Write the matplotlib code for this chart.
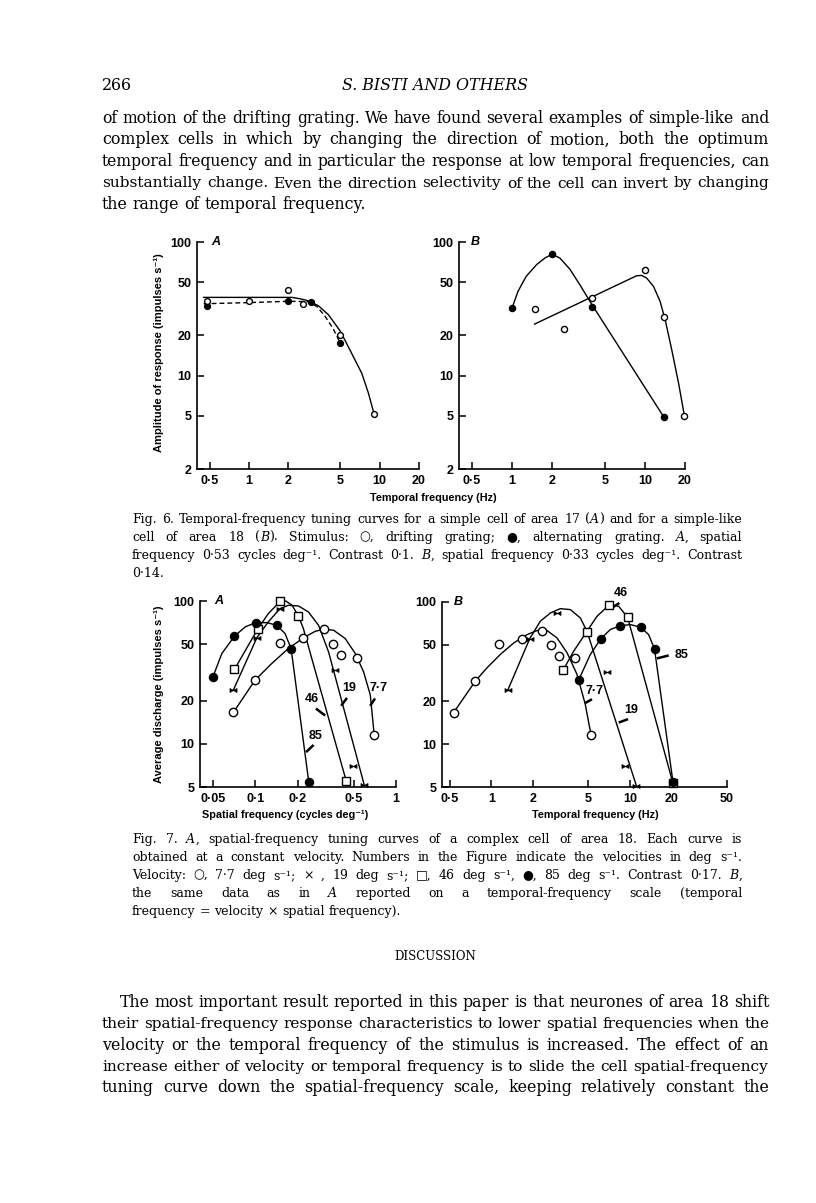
import matplotlib
matplotlib.use("Agg")
import matplotlib.pyplot as plt
from matplotlib.path import Path

# ---------------- Fig. 6 A : simple cell, area 17 (temporal frequency Hz) ----------------
f6a_drift_x = [0.48, 1, 2, 2.6, 5, 9]
f6a_drift_y = [36, 36, 43.5, 34.5, 20.2, 5.2]
f6a_alt_x = [0.48, 2, 3, 5]
f6a_alt_y = [33, 36.3, 35.5, 17.5]
# hand drawn fits
f6a_drift_fit_x = [0.45, 2.13, 2.46, 2.85, 3.4, 4.06, 5.0, 6.1, 7.3, 8.2, 9.05]
f6a_drift_fit_y = [38.5, 38.5, 37.6, 36.3, 33.3, 28.5, 21.5, 14.7, 10.4, 7.4, 5.2]
f6a_alt_fit_x = [0.45, 1, 2, 2.8, 3.3, 3.8, 4.4, 5.0]
f6a_alt_fit_y = [34.5, 35.2, 36, 35.8, 33, 28, 22.5, 17.5]

# ---------------- Fig. 6 B : simple-like cell, area 18 ----------------
f6b_drift_x = [1.48, 2.48, 4.0, 9.95, 13.8, 19.8]
f6b_drift_y = [31.6, 22.4, 38, 62, 27.4, 5.0]
f6b_alt_x = [1.0, 2.0, 4.0, 13.8]
f6b_alt_y = [31.8, 81, 32.4, 4.93]
f6b_drift_fit_x = [1.48, 8.66, 9.45, 10.3, 11.6, 13.0, 14.2, 15.9, 17.9, 19.8]
f6b_drift_fit_y = [24.3, 55.9, 56.2, 53.7, 46.5, 35.9, 26.1, 15.6, 8.76, 5.0]
f6b_alt_fit_x = [1.0, 1.11, 1.28, 1.53, 1.77, 2.0, 2.29, 2.72, 3.24, 4.0, 13.8]
f6b_alt_fit_y = [31.8, 42.7, 55.3, 67.6, 75.9, 81, 75.9, 62.8, 47.9, 33.9, 4.93]

# ---------------- Fig. 7 A : spatial frequency (cycles/deg) ----------------
f7a_v77_x = [0.070, 0.10, 0.149, 0.22, 0.309, 0.355, 0.406, 0.528, 0.70]
f7a_v77_y = [16.6, 28.0, 50.9, 55.2, 63.4, 49.9, 42, 40, 11.6]
f7a_v77_fit_x = [0.07, 0.1, 0.131, 0.172, 0.22, 0.267, 0.309, 0.361, 0.436, 0.514, 0.589, 0.657, 0.70]
f7a_v77_fit_y = [16.6, 28.0, 36.5, 46.5, 55.2, 61.4, 63.4, 62.4, 54.6, 42.9, 31.9, 22, 11.6]

f7a_v19_x = [0.070, 0.103, 0.150, 0.37, 0.495, 0.595]
f7a_v19_y = [23.8, 55.5, 88.4, 32.8, 7.02, 5.17]
f7a_v19_fit_x = [0.07, 0.103, 0.124, 0.15, 0.172, 0.203, 0.239, 0.282, 0.332, 0.595]
f7a_v19_fit_y = [23.8, 55.5, 71.4, 88.4, 93.3, 92.3, 83.8, 67.6, 44.1, 5.17]

f7a_v46_x = [0.0713, 0.104, 0.150, 0.203, 0.443]
f7a_v46_y = [33.2, 63.4, 100, 78.5, 5.52]
f7a_v46_fit_x = [0.0713, 0.104, 0.124, 0.15, 0.165, 0.183, 0.203, 0.22, 0.443]
f7a_v46_fit_y = [33.2, 63.4, 81.6, 99, 100, 93.3, 78.5, 64.1, 5.52]

f7a_v85_x = [0.05, 0.0713, 0.101, 0.1425, 0.18, 0.24]
f7a_v85_y = [29.2, 56.7, 70.6, 67.6, 46.5, 5.46]
f7a_v85_fit_x = [0.05, 0.058, 0.0713, 0.085, 0.101, 0.121, 0.1425, 0.163, 0.18, 0.24]
f7a_v85_fit_y = [29.2, 42.9, 56.7, 65.9, 70.6, 70.6, 67.6, 59.2, 46.5, 5.46]

# ---------------- Fig. 7 B : temporal frequency (Hz) ----------------
f7b_v77_x = [0.534, 0.766, 1.135, 1.66, 2.33, 2.68, 3.07, 3.98, 5.23]
f7b_v77_y = [16.7, 27.8, 50.8, 55.3, 63, 49.7, 41.6, 40.5, 11.6]
f7b_v77_fit_x = [0.534, 0.766, 0.93, 1.16, 1.45, 1.81, 2.13, 2.52, 2.97, 3.51, 4.14, 4.75, 5.23]
f7b_v77_fit_y = [16.7, 27.8, 34.5, 42.8, 51.6, 59, 63, 63, 55.9, 44, 31, 19.1, 11.6]

f7b_v19_x = [1.31, 1.89, 2.97, 6.82, 9.14, 11.1]
f7b_v19_y = [23.9, 55.3, 83.7, 32.3, 6.98, 5.1]
f7b_v19_fit_x = [1.31, 1.89, 2.25, 2.66, 3.14, 3.71, 4.38, 4.89, 11.1]
f7b_v19_fit_y = [23.9, 55.3, 73.2, 83.7, 89.8, 88.4, 77.2, 62.2, 5.1]

f7b_v46_x = [3.28, 4.85, 7.1, 9.6, 20.4]
f7b_v46_y = [33, 61.6, 95.8, 78, 5.3]
f7b_v46_fit_x = [3.28, 3.92, 4.85, 5.77, 7.1, 8.28, 9.6, 20.4]
f7b_v46_fit_y = [33, 45.1, 61.6, 79.3, 95.8, 93.2, 78, 5.3]

f7b_v85_x = [4.26, 6.17, 8.42, 11.9, 15.0, 20.4]
f7b_v85_y = [28.3, 55.3, 67.9, 66.5, 46.8, 5.39]
f7b_v85_fit_x = [4.26, 5.17, 6.17, 7.2, 8.42, 10.04, 11.9, 13.6, 15.0, 20.4]
f7b_v85_fit_y = [28.3, 42.8, 55.3, 64, 67.9, 69.4, 66.5, 59, 46.8, 5.39]

# ticks
f6_xticks = [0.5, 1, 2, 5, 10, 20]
f6_xlabels = ['0·5', '1', '2', '5', '10', '20']
f6_yticks = [2, 5, 10, 20, 50, 100]
f7a_xticks = [0.05, 0.1, 0.2, 0.5, 1]
f7a_xlabels = ['0·05', '0·1', '0·2', '0·5', '1']
f7b_xticks = [0.5, 1, 2, 5, 10, 20, 50]
f7b_xlabels = ['0·5', '1', '2', '5', '10', '20', '50']
f7_yticks = [5, 10, 20, 50, 100]

# page text
body_top = [
    "of motion of the drifting grating. We have found several examples of simple-like and",
    "complex cells in which by changing the direction of motion, both the optimum",
    "temporal frequency and in particular the response at low temporal frequencies, can",
    "substantially change. Even the direction selectivity of the cell can invert by changing",
    "the range of temporal frequency.",
]
cap6 = [
    "Fig. 6. Temporal-frequency tuning curves for a simple cell of area 17 (_A_) and for a simple-like",
    "cell of area 18 (_B_). Stimulus: ○, drifting grating; ●, alternating grating. _A_, spatial",
    "frequency 0·53 cycles deg⁻¹. Contrast 0·1. _B_, spatial frequency 0·33 cycles deg⁻¹. Contrast",
    "0·14.",
]
cap7 = [
    "Fig. 7. _A_, spatial-frequency tuning curves of a complex cell of area 18. Each curve is",
    "obtained at a constant velocity. Numbers in the Figure indicate the velocities in deg s⁻¹.",
    "Velocity: ○, 7·7 deg s⁻¹; × , 19 deg s⁻¹; □, 46 deg s⁻¹, ●, 85 deg s⁻¹. Contrast 0·17. _B_,",
    "the same data as in _A_ reported on a temporal-frequency scale (temporal",
    "frequency = velocity × spatial frequency).",
]
body_bottom = [
    "The most important result reported in this paper is that neurones of area 18 shift",
    "their spatial-frequency response characteristics to lower spatial frequencies when the",
    "velocity or the temporal frequency of the stimulus is increased. The effect of an",
    "increase either of velocity or temporal frequency is to slide the cell spatial-frequency",
    "tuning curve down the spatial-frequency scale, keeping relatively constant the",
]

W, H = 816, 1203
fig = plt.figure(figsize=(W / 100, H / 100), dpi=100)
fig.patch.set_facecolor('white')
renderer = fig.canvas.get_renderer()

SERIF = ['DejaVu Serif', 'DejaVu Sans']
SANS = ['Liberation Sans', 'DejaVu Sans']
SPACE = 0.318  # space width in em for DejaVu Serif

# small bow-tie shaped cross used in Fig. 7
BOWTIE = Path([(-1, -0.55), (1, 0.55), (1, -0.55), (-1, 0.55), (-1, -0.55)])


def fy(y):
    return 1 - y / H


def make_words(y, line, size):
    groups = []
    for word in line.split(' '):
        pieces = []
        for i, part in enumerate(word.split('_')):
            if part:
                t = fig.text(0, fy(y), part, fontsize=size, family=SERIF,
                             style='italic' if i % 2 else 'normal',
                             ha='left', va='baseline')
                pieces.append([t, t.get_window_extent(renderer).width])
        groups.append(pieces)
    return groups


def put_line(y, line, x0, x1, size, justify=True):
    groups = make_words(y, line, size)
    em = size * 100 / 72
    total = sum(w for g in groups for _, w in g)
    n = len(groups)
    # shrink a too-long line a little so it still fits with a normal space
    if justify and n > 1 and total + (n - 1) * SPACE * em > x1 - x0:
        k = (x1 - x0) / (total + (n - 1) * SPACE * em)
        for g in groups:
            for p in g:
                p[0].set_fontsize(size * k)
                p[1] = p[1] * k
        total *= k
    if justify and n > 1:
        gap = (x1 - x0 - total) / (n - 1)
    else:
        gap = SPACE * em
    x = x0
    for g in groups:
        for t, w in g:
            t.set_x(x / W)
            x += w
        x += gap


def paragraph(lines, y0, dy, x0, x1, size, indent=0, last_full=False):
    for i, line in enumerate(lines):
        last = (i == len(lines) - 1) and not last_full
        put_line(y0 + i * dy, line, x0 + (indent if i == 0 else 0), x1, size, justify=not last)


body_size = 11.4
cap_size = 9.0

fig.text(102 / W, fy(90), '266', fontsize=body_size, family=SERIF, ha='left', va='baseline')
fig.text(435 / W, fy(90), 'S. BISTI AND OTHERS', fontsize=body_size, family=SERIF,
         style='italic', ha='center', va='baseline')
paragraph(body_top, 123, 21.5, 102, 769, body_size)
paragraph(cap6, 523, 18, 132, 742, cap_size)
paragraph(cap7, 843, 18, 132, 742, cap_size)
fig.text(435 / W, fy(960), 'DISCUSSION', fontsize=8.5, family=SERIF, ha='center', va='baseline')
paragraph(body_bottom, 1007, 21.3, 102, 769, body_size, indent=18, last_full=True)


def panel(l, t, r, b, xlim, ylim, xt, xtl, yt, letter, letter_x):
    ax = fig.add_axes([l / W, 1 - b / H, (r - l) / W, (b - t) / H])
    ax.set_xscale('log')
    ax.set_yscale('log')
    ax.set_xlim(xlim)
    ax.set_ylim(ylim)
    ax.set_xticks(xt, xtl, fontsize=9, fontweight='bold', fontfamily=SANS)
    ax.set_yticks(yt, [str(v) for v in yt], fontsize=9, fontweight='bold', fontfamily=SANS)
    ax.minorticks_off()
    ax.spines[['top', 'right']].set_visible(False)
    ax.spines[['left', 'bottom']].set_linewidth(1.2)
    ax.tick_params(direction='in', length=5, width=1.1, pad=4)
    ax.patch.set_visible(False)
    ax.text((letter_x - l) / (r - l), 1.0, letter, transform=ax.transAxes, style='italic',
            fontsize=9, fontweight='bold', fontfamily=SANS, ha='left', va='center')
    return ax


def fit(ax, x, y, ls='-'):
    ax.plot(x, y, color='black', lw=1.0, ls=ls, clip_on=False, zorder=2)


def pts(ax, x, y, kind, ms):
    if kind == 'open':
        kw = dict(marker='o', mfc='white', mec='black', mew=1.0, ms=ms)
    elif kind == 'filled':
        kw = dict(marker='o', mfc='black', mec='black', ms=ms)
    elif kind == 'square':
        kw = dict(marker='s', mfc='white', mec='black', mew=1.0, ms=ms)
    else:
        kw = dict(marker=BOWTIE, mfc='black', mec='black', mew=0.6, ms=ms)
    ax.plot(x, y, ls='none', clip_on=False, zorder=3, **kw)


def pointer(ax, label, tx, ty, sx, sy, ex, ey):
    ax.text(tx, ty, label, fontsize=9, fontweight='bold', fontfamily=SANS,
            ha='center', va='center', clip_on=False)
    ax.plot([sx, ex], [sy, ey], color='black', lw=1.8, solid_capstyle='butt', clip_on=False)


# Fig. 6 A
ax = panel(197, 242, 419, 469, (0.4, 20), (2, 100), f6_xticks, f6_xlabels, f6_yticks, 'A', 211)
fit(ax, f6a_drift_fit_x, f6a_drift_fit_y)
fit(ax, f6a_alt_fit_x, f6a_alt_fit_y, ls=(0, (3.5, 2.2)))
pts(ax, f6a_alt_x, f6a_alt_y, 'filled', 4.2)
pts(ax, f6a_drift_x, f6a_drift_y, 'open', 4.2)

# Fig. 6 B
ax = panel(459, 242, 685, 469, (0.4, 20), (2, 100), f6_xticks, f6_xlabels, f6_yticks, 'B', 471)
fit(ax, f6b_alt_fit_x, f6b_alt_fit_y)
fit(ax, f6b_drift_fit_x, f6b_drift_fit_y)
pts(ax, f6b_alt_x, f6b_alt_y, 'filled', 4.4)
pts(ax, f6b_drift_x, f6b_drift_y, 'open', 4.4)

fig.text(433 / W, fy(498), 'Temporal frequency (Hz)', fontsize=7.8, fontweight='bold',
         family=SANS, ha='center', va='center')
fig.text(159 / W, fy(353), 'Amplitude of response (impulses s⁻¹)', fontsize=8,
         fontweight='bold', family=SANS, rotation=90, ha='center', va='center')

# Fig. 7 A
ax = panel(200, 601, 396, 787, (0.0406, 1), (5, 100), f7a_xticks, f7a_xlabels, f7_yticks, 'A', 214)
fit(ax, f7a_v77_fit_x, f7a_v77_fit_y)
fit(ax, f7a_v19_fit_x, f7a_v19_fit_y)
fit(ax, f7a_v46_fit_x, f7a_v46_fit_y)
fit(ax, f7a_v85_fit_x, f7a_v85_fit_y)
pts(ax, f7a_v77_x, f7a_v77_y, 'open', 6)
pts(ax, f7a_v19_x, f7a_v19_y, 'cross', 5)
pts(ax, f7a_v46_x, f7a_v46_y, 'square', 5.2)
pts(ax, f7a_v85_x, f7a_v85_y, 'filled', 5.8)
pointer(ax, '7·7', 0.75, 24.5, 0.71, 20.8, 0.655, 18.5)
pointer(ax, '19', 0.465, 24.5, 0.449, 21, 0.408, 18.5)
pointer(ax, '46', 0.253, 20.5, 0.27, 17.7, 0.314, 15.8)
pointer(ax, '85', 0.27, 11.4, 0.26, 9.84, 0.23, 8.77)

# Fig. 7 B
ax = panel(442, 602, 727, 787, (0.44, 50), (5, 100), f7b_xticks, f7b_xlabels, f7_yticks, 'B', 454)
fit(ax, f7b_v77_fit_x, f7b_v77_fit_y)
fit(ax, f7b_v19_fit_x, f7b_v19_fit_y)
fit(ax, f7b_v46_fit_x, f7b_v46_fit_y)
fit(ax, f7b_v85_fit_x, f7b_v85_fit_y)
pts(ax, f7b_v77_x, f7b_v77_y, 'open', 6)
pts(ax, f7b_v19_x, f7b_v19_y, 'cross', 5)
pts(ax, f7b_v46_x, f7b_v46_y, 'square', 5.2)
pts(ax, f7b_v85_x, f7b_v85_y, 'filled', 5.8)
pointer(ax, '46', 8.6, 116, 8.37, 98.4, 7.49, 91.7)
pointer(ax, '85', 23.5, 42.1, 19.0, 42.1, 15.6, 40.1)
pointer(ax, '7·7', 5.5, 23.5, 5.31, 20.7, 4.71, 19.4)
pointer(ax, '19', 10.2, 17.3, 9.66, 15.0, 8.28, 14.2)

fig.text(285 / W, fy(815), 'Spatial frequency (cycles deg⁻¹)', fontsize=7.8, fontweight='bold',
         family=SANS, ha='center', va='center')
fig.text(595 / W, fy(815), 'Temporal frequency (Hz)', fontsize=7.8, fontweight='bold',
         family=SANS, ha='center', va='center')
fig.text(159 / W, fy(694), 'Average discharge (impulses s⁻¹)', fontsize=8,
         fontweight='bold', family=SANS, rotation=90, ha='center', va='center')

fig.savefig('out.png', dpi=100, facecolor='white')
